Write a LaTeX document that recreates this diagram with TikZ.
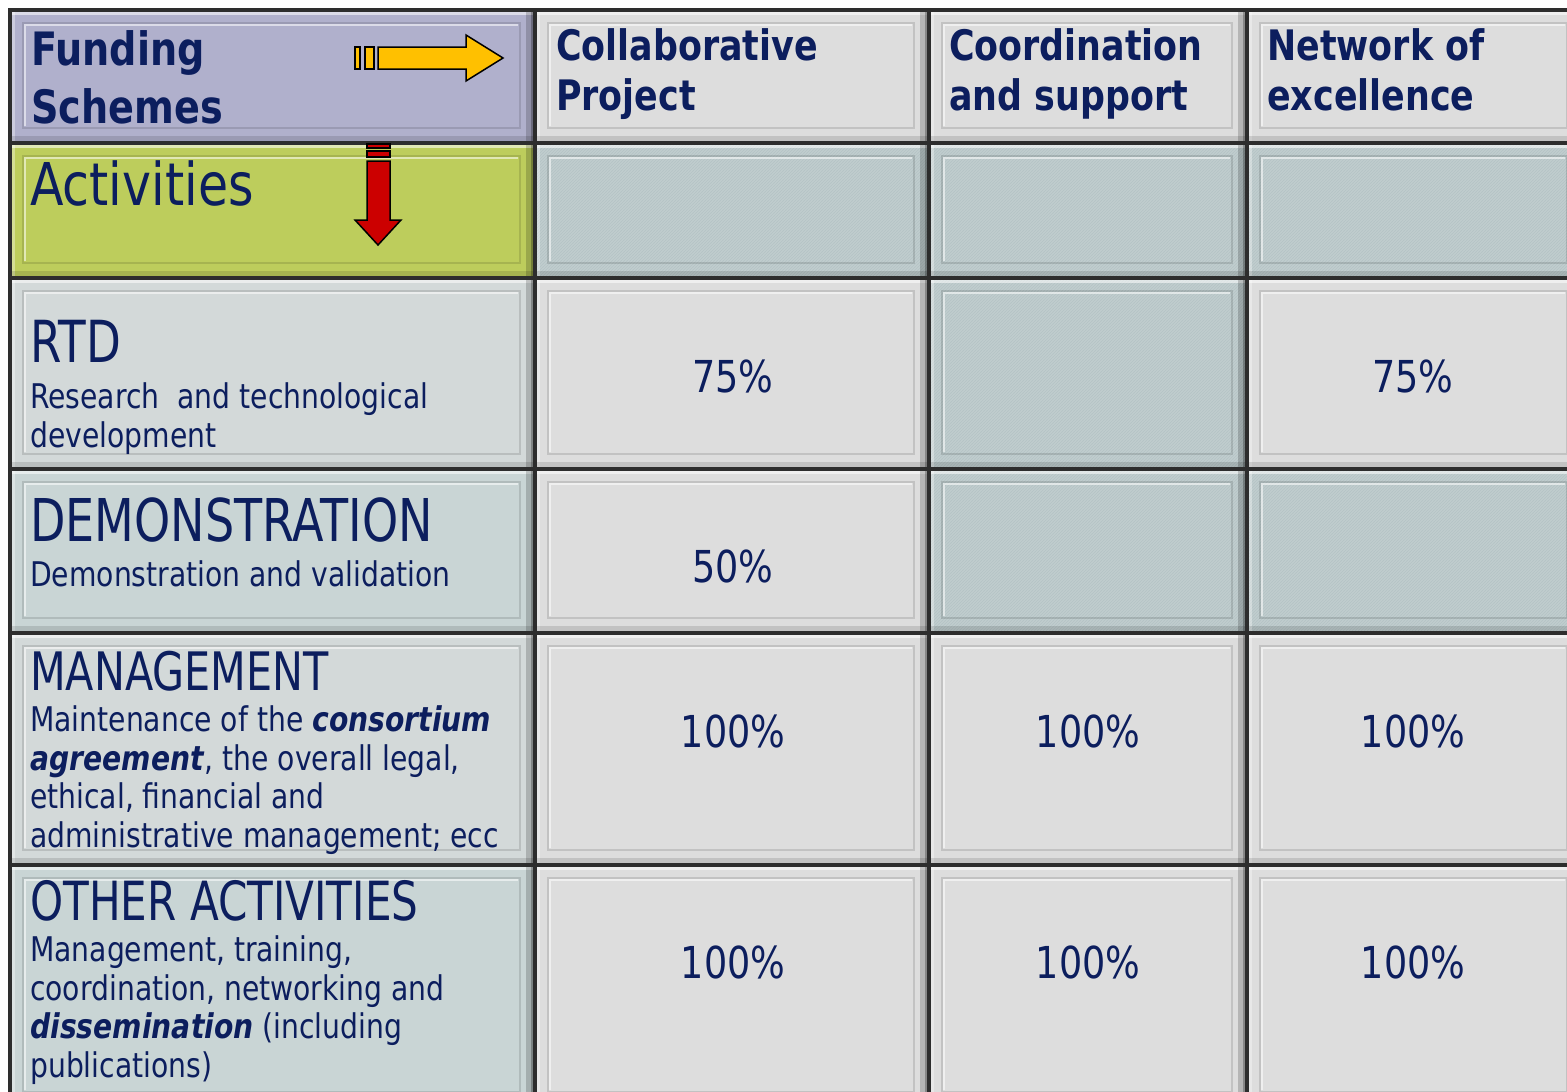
\documentclass[tikz,border=0pt]{standalone}
\usepackage{fontspec}
\setmainfont{DejaVu Sans}[FakeStretch=0.83]
\newfontfamily\capsfont{DejaVu Sans}[FakeStretch=0.78]
\usetikzlibrary{patterns}
\definecolor{navy}{RGB}{12,30,94}
\definecolor{gridc}{RGB}{45,45,45}
\definecolor{fundc}{RGB}{176,176,204}
\definecolor{actc}{RGB}{189,205,92}
\definecolor{leftA}{RGB}{211,217,217}
\definecolor{leftB}{RGB}{201,213,213}
\definecolor{valc}{RGB}{221,221,221}
\definecolor{hatc}{RGB}{192,205,206}
\definecolor{hatl}{RGB}{180,195,197}
\definecolor{arry}{RGB}{255,192,0}
\definecolor{arrr}{RGB}{204,0,0}
\newcommand\bevelbox[4]{%
 \fill[white,opacity=.55] (#1,#2) rectangle (#3,#2+5);
 \fill[white,opacity=.35] (#1,#2) rectangle (#1+5,#4);
 \fill[black,opacity=.12] (#1,#4-7) rectangle (#3,#4);
 \fill[black,opacity=.18] (#3-9,#2) rectangle (#3,#4);
 \fill[black,opacity=.25] (#3-4,#2) rectangle (#3,#4);
 \draw[black,opacity=.12,line width=1.6] (#1+13,#2+13) rectangle (#3-15,#4-15);
 \draw[white,opacity=.55,line width=1.2] (#1+15,#4-17) -- (#1+15,#2+15) -- (#3-17,#2+15);
}
\newcommand\plaincell[5]{%
 \fill[#5] (#1,#2) rectangle (#3,#4);
 \bevelbox{#1}{#2}{#3}{#4}}
\newcommand\hatchcell[4]{%
 \fill[hatc] (#1,#2) rectangle (#3,#4);
 \fill[pattern=north east lines,pattern color=hatl] (#1,#2) rectangle (#3,#4);
 \bevelbox{#1}{#2}{#3}{#4}}
\tikzset{
 gridline/.style={draw=gridc,line width=4},
 txt/.style={text=navy,inner sep=0,anchor=base west,align=left},
 hdrbig/.style={txt,font=\fontsize{46}{58}\selectfont\bfseries},
 hdr/.style={txt,font=\fontsize{42}{50}\selectfont\bfseries},
 rowhead/.style={txt,font=\capsfont\fontsize{#1}{60}\selectfont},
 rowdesc/.style={txt,font=\fontsize{34}{38.5}\selectfont},
 val/.style={text=navy,inner sep=0,anchor=base,font=\fontsize{44}{50}\selectfont},
 arrowshape/.style={draw=black,line width=1.5,line join=miter},
}
\begin{document}
\begin{tikzpicture}[x=1pt,y=-1pt]
\useasboundingbox (0,0) rectangle (1567,1092);
\fill[white] (0,0) rectangle (1567,1092);
\clip (0,0) rectangle (1567,1092);
% header row
\plaincell{10}{10}{535}{143}{fundc}
\plaincell{535}{10}{929}{143}{valc}
\plaincell{929}{10}{1247}{143}{valc}
\plaincell{1247}{10}{1582}{143}{valc}
% activities row
\plaincell{10}{143}{535}{278}{actc}
\hatchcell{535}{143}{929}{278}
\hatchcell{929}{143}{1247}{278}
\hatchcell{1247}{143}{1582}{278}
% RTD
\plaincell{10}{278}{535}{469}{leftA}
\plaincell{535}{278}{929}{469}{valc}
\hatchcell{929}{278}{1247}{469}
\plaincell{1247}{278}{1582}{469}{valc}
% DEMONSTRATION
\plaincell{10}{469}{535}{633}{leftB}
\plaincell{535}{469}{929}{633}{valc}
\hatchcell{929}{469}{1247}{633}
\hatchcell{1247}{469}{1582}{633}
% MANAGEMENT
\plaincell{10}{633}{535}{865}{leftA}
\plaincell{535}{633}{929}{865}{valc}
\plaincell{929}{633}{1247}{865}{valc}
\plaincell{1247}{633}{1582}{865}{valc}
% OTHER
\plaincell{10}{865}{535}{1107}{leftB}
\plaincell{535}{865}{929}{1107}{valc}
\plaincell{929}{865}{1247}{1107}{valc}
\plaincell{1247}{865}{1582}{1107}{valc}
% grid lines
\foreach \gy in {10,143,278,469,633,865} \draw[gridline] (8,\gy) -- (1567,\gy);
\foreach \gx in {10,535,929,1247} \draw[gridline] (\gx,8) -- (\gx,1092);
% texts (multi-line nodes: position is the baseline of the last line)
\node[hdrbig] (fund) at (31,123) {Funding\\Schemes};
\node[hdr] (colp) at (556,110) {Collaborative\\Project};
\node[hdr] (coord) at (949,110) {Coordination\\and support};
\node[hdr] (netw) at (1267,110) {Network of\\excellence};
\node[txt,font=\fontsize{59}{60}\selectfont] (act) at (30,205) {Activities};
\node[rowhead=58] (rtd) at (30,362) {RTD};
\node[rowdesc] (rtdd) at (30,447) {Research\ \ and technological\\development};
\node[rowhead=59] (demo) at (30,541) {DEMONSTRATION};
\node[rowdesc] (demod) at (30,586) {Demonstration and validation};
\node[rowhead=53] (mgmt) at (30,690) {MANAGEMENT};
\node[rowdesc] (mgmtd) at (30,847) {Maintenance of the \textbf{\textit{consortium}}\\\textbf{\textit{agreement}}, the overall legal,\\ethical, financial and\\administrative management; ecc};
\node[rowhead=54] (oth) at (30,920) {OTHER ACTIVITIES};
\node[rowdesc] (othd) at (30,1077) {Management, training,\\coordination, networking and\\\textbf{\textit{dissemination}} (including\\publications)};
% values
\node[val] (v1) at (733,392) {75\%};
\node[val] (v2) at (1413,392) {75\%};
\node[val] (v3) at (733,582) {50\%};
\node[val] (v4) at (733,747) {100\%};
\node[val] (v5) at (1088,747) {100\%};
\node[val] (v6) at (1413,747) {100\%};
\node[val] (v7) at (733,978) {100\%};
\node[val] (v8) at (1088,978) {100\%};
\node[val] (v9) at (1413,978) {100\%};
% yellow arrow
\filldraw[arrowshape,fill=arry] (355,47) rectangle (360,69);
\filldraw[arrowshape,fill=arry] (365,47) rectangle (374,69);
\filldraw[arrowshape,fill=arry] (378,47) -- (466,47) -- (466,35) -- (503,58) -- (466,81) -- (466,69) -- (378,69) -- cycle;
% red arrow
\filldraw[arrowshape,fill=arrr] (367,144) rectangle (390,148);
\filldraw[arrowshape,fill=arrr] (367,151) rectangle (390,157);
\filldraw[arrowshape,fill=arrr] (367,161) -- (390,161) -- (390,220) -- (401,220) -- (378,245) -- (355,220) -- (367,220) -- cycle;
\end{tikzpicture}
\end{document}
